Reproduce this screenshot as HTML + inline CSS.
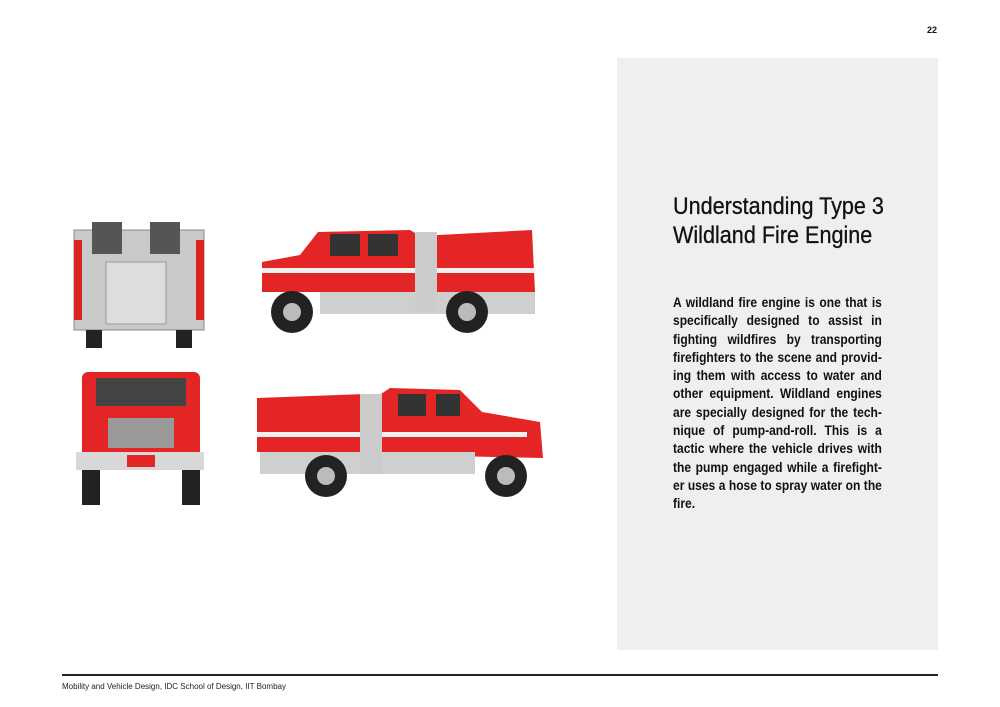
<!DOCTYPE html>
<html><head><meta charset="utf-8"><style>
html,body{margin:0;padding:0;background:#fff;}
body{width:1000px;height:707px;position:relative;overflow:hidden;font-family:"Liberation Sans",sans-serif;}
.pn{position:absolute;left:927px;top:25px;font-size:9px;font-weight:bold;color:#111;}
.panel{position:absolute;left:617px;top:58px;width:321px;height:592px;background:#efefef;}
.title{position:absolute;left:673px;top:192px;font-size:24px;line-height:29px;color:#111;white-space:nowrap;transform:scaleX(0.9);transform-origin:0 0;-webkit-text-stroke:0.3px #111;}
.body{position:absolute;left:673px;top:294px;width:236px;font-size:13.6px;line-height:18.3px;color:#111;font-weight:bold;transform:scaleX(0.885);transform-origin:0 0;}
.body div{text-align:justify;text-align-last:justify;white-space:nowrap;}
.body div.l{text-align-last:left;}
.line{position:absolute;left:62px;top:674px;width:876px;height:2px;background:#222;}
.foot{position:absolute;left:62px;top:682px;font-size:8px;color:#222;}
svg{position:absolute;left:0;top:0;}
</style></head><body>
<div class="pn">22</div>
<div class="panel"></div>
<div class="title">Understanding Type 3<br>Wildland Fire Engine</div>
<div class="body">
<div>A wildland fire engine is one that is</div>
<div>specifically designed to assist in</div>
<div>fighting wildfires by transporting</div>
<div>firefighters to the scene and provid-</div>
<div>ing them with access to water and</div>
<div>other equipment. Wildland engines</div>
<div>are specially designed for the tech-</div>
<div>nique of pump-and-roll. This is a</div>
<div>tactic where the vehicle drives with</div>
<div>the pump engaged while a firefight-</div>
<div>er uses a hose to spray water on the</div>
<div class="l">fire.</div>
</div>
<div class="line"></div>
<div class="foot">Mobility and Vehicle Design, IDC School of Design, IIT Bombay</div>
<svg width="1000" height="707">
<!-- rear view -->
<rect x="74" y="230" width="130" height="100" fill="#c9c9c9" stroke="#888"/>
<rect x="92" y="222" width="30" height="32" fill="#555"/>
<rect x="150" y="222" width="30" height="32" fill="#555"/>
<rect x="106" y="262" width="60" height="62" fill="#ddd" stroke="#999"/>
<rect x="74" y="240" width="8" height="80" fill="#d22"/>
<rect x="196" y="240" width="8" height="80" fill="#d22"/>
<rect x="86" y="330" width="16" height="18" fill="#222"/>
<rect x="176" y="330" width="16" height="18" fill="#222"/>
<!-- side view 1 -->
<path d="M262 292 L262 262 L300 255 L318 232 L410 230 L420 236 L532 230 L535 292 Z" fill="#e32525"/>
<rect x="330" y="234" width="30" height="22" fill="#333"/><rect x="368" y="234" width="30" height="22" fill="#333"/>
<rect x="262" y="268" width="273" height="5" fill="#f0f0f0"/>
<rect x="320" y="292" width="215" height="22" fill="#cfcfcf"/>
<rect x="415" y="232" width="22" height="80" fill="#ccc"/>
<circle cx="292" cy="312" r="21" fill="#222"/><circle cx="292" cy="312" r="9" fill="#bbb"/>
<circle cx="467" cy="312" r="21" fill="#222"/><circle cx="467" cy="312" r="9" fill="#bbb"/>
<!-- front view -->
<rect x="82" y="372" width="118" height="50" rx="6" fill="#e32525"/>
<rect x="96" y="378" width="90" height="28" fill="#444"/>
<rect x="82" y="415" width="118" height="40" fill="#e32525"/>
<rect x="108" y="418" width="66" height="30" fill="#999"/>
<rect x="76" y="452" width="128" height="18" fill="#d8d8d8"/>
<rect x="127" y="455" width="28" height="12" fill="#e32525"/>
<rect x="82" y="470" width="18" height="35" fill="#222"/><rect x="182" y="470" width="18" height="35" fill="#222"/>
<!-- side view 2 -->
<path d="M257 452 L257 398 L365 394 L375 398 L390 388 L460 390 L482 412 L540 422 L543 458 Z" fill="#e32525"/>
<rect x="398" y="394" width="28" height="22" fill="#333"/><rect x="436" y="394" width="24" height="22" fill="#333"/>
<rect x="257" y="432" width="270" height="5" fill="#f0f0f0"/>
<rect x="260" y="452" width="215" height="22" fill="#cfcfcf"/>
<rect x="360" y="394" width="22" height="80" fill="#ccc"/>
<circle cx="326" cy="476" r="21" fill="#222"/><circle cx="326" cy="476" r="9" fill="#bbb"/>
<circle cx="506" cy="476" r="21" fill="#222"/><circle cx="506" cy="476" r="9" fill="#bbb"/>
</svg>
</body></html>
